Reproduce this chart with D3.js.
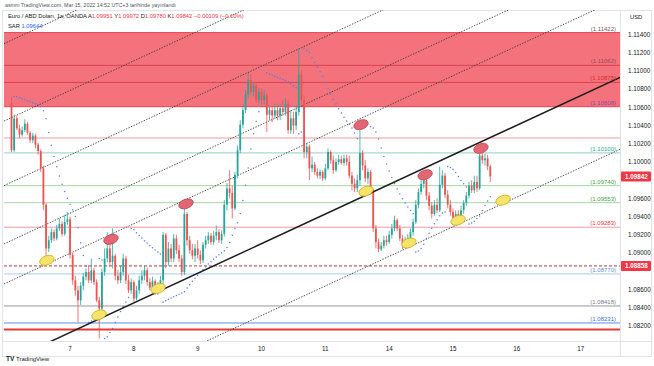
<!DOCTYPE html>
<html>
<head>
<meta charset="utf-8">
<script src="https://cdn.jsdelivr.net/npm/d3@7"></script>
<style>
  body { margin: 0; background: #fff; }
  svg { display: block; font-family: "Liberation Sans", Arial, sans-serif; }
</style>
</head>
<body>
<svg id="chart" width="654" height="366"></svg>
<script>
// EUR/USD 1h candles, Mar 4 02:00 -> Mar 15 14:00 (open = previous close)
const firstOpen = 1.1065;
const closes = [
  1.1013,1.1048,1.1037,1.1030,1.1035,1.1042,1.1032,1.1024,1.1029,1.1019,
  1.1012,1.0993,1.0953,1.0905,1.0914,1.0923,1.0916,1.0927,1.0932,1.0921,
  1.0934,1.0937,1.0898,1.0870,1.0859,1.0848,1.0864,1.0874,1.0879,1.0870,
  1.0881,1.0868,1.0848,1.0839,1.0879,1.0894,1.0905,1.0890,1.0897,1.0875,
  1.0870,1.0879,1.0894,1.0870,1.0859,1.0868,1.0850,1.0859,1.0870,1.0875,
  1.0881,1.0868,1.0862,1.0869,1.0857,1.0864,1.0870,1.0920,1.0890,1.0905,
  1.0894,1.0916,1.0903,1.0894,1.0879,1.0943,1.0914,1.0903,1.0897,1.0905,
  1.0898,1.0892,1.0909,1.0914,1.0919,1.0912,1.0919,1.0923,1.0914,1.0921,
  1.0953,1.0971,1.0966,1.0949,1.0986,1.1013,1.1041,1.1057,1.1074,1.1090,
  1.1077,1.1084,1.1068,1.1077,1.1068,1.1073,1.1052,1.1057,1.1051,1.1057,
  1.1051,1.1059,1.1055,1.1064,1.1035,1.1048,1.1040,1.1055,1.1096,1.1068,
  1.1011,1.1017,1.0993,1.0997,1.0989,1.0985,1.0989,1.0982,1.0993,1.1011,
  1.1002,1.0991,1.1000,1.1003,1.0999,1.1004,1.1000,1.0985,1.0976,1.0971,
  1.0980,1.1010,1.0996,1.0982,1.0989,1.0969,1.0927,1.0912,1.0904,1.0908,
  1.0914,1.0912,1.0920,1.0927,1.0936,1.0927,1.0916,1.0909,1.0914,1.0916,
  1.0923,1.0934,1.0953,1.0967,1.0976,1.0980,1.0963,1.0952,1.0943,1.0953,
  1.0947,1.0975,1.0985,1.0964,1.0953,1.0945,1.0938,1.0943,1.0940,1.0947,
  1.0955,1.0963,1.0974,1.0969,1.0978,1.0971,1.1007,1.1002,1.1004,1.09951,
  1.09842
];
const highs = [
  1.1072,1.1052,1.1051,1.1041,1.1039,1.1047,1.1044,1.1034,1.1032,1.1031,
  1.1021,1.1014,1.0996,1.0955,1.0919,1.0927,1.0926,1.0931,1.0938,1.0935,
  1.0942,1.0945,1.0940,1.0900,1.0875,1.0864,1.0868,1.0878,1.0883,1.0887,
  1.0894,1.0884,1.0871,1.0852,1.0883,1.0905,1.0923,1.0910,1.0927,1.0899,
  1.0881,1.0886,1.0899,1.0897,1.0876,1.0872,1.0870,1.0864,1.0875,1.0881,
  1.0886,1.0884,1.0872,1.0874,1.0871,1.0868,1.0875,1.0923,1.0922,1.0912,
  1.0910,1.0921,1.0920,1.0909,1.0898,1.0956,1.0945,1.0919,1.0910,1.0910,
  1.0914,1.0903,1.0912,1.0919,1.0923,1.0922,1.0924,1.0930,1.0926,1.0925,
  1.0958,1.0977,1.0991,1.0974,1.0989,1.1018,1.1046,1.1063,1.1079,1.1098,
  1.1097,1.1088,1.1086,1.1081,1.1081,1.1079,1.1076,1.1062,1.1062,1.1064,
  1.1064,1.1064,1.1068,1.1070,1.1068,1.1057,1.1055,1.1062,1.1125,1.1101,
  1.1073,1.1020,1.1019,1.1006,1.1000,1.0993,1.0992,1.0991,1.0998,1.1015,
  1.1013,1.1007,1.1004,1.1008,1.1007,1.1008,1.1008,1.1007,1.0989,1.0982,
  1.0986,1.1039,1.1013,1.1002,1.0993,1.0991,1.0971,1.0931,1.0916,1.0912,
  1.0919,1.0919,1.0924,1.0932,1.0941,1.0938,1.0931,1.0920,1.0918,1.0921,
  1.0927,1.0938,1.0958,1.0971,1.0982,1.0989,1.0985,1.0967,1.0956,1.0958,
  1.0960,1.0995,1.0991,1.0988,1.0969,1.0958,1.0949,1.0947,1.0947,1.0952,
  1.0958,1.0967,1.0978,1.0980,1.0985,1.0985,1.1015,1.1010,1.1009,1.1008,
  1.09972
];
const lows = [
  1.1011,1.1011,1.1035,1.1026,1.1028,1.1033,1.1030,1.1021,1.1021,1.1015,
  1.1008,1.0989,1.0947,1.0894,1.0901,1.0911,1.0913,1.0914,1.0924,1.0918,
  1.0919,1.0931,1.0894,1.0865,1.0853,1.0824,1.0843,1.0859,1.0870,1.0867,
  1.0867,1.0865,1.0846,1.0806,1.0833,1.0875,1.0890,1.0886,1.0883,1.0870,
  1.0866,1.0867,1.0875,1.0866,1.0856,1.0855,1.0846,1.0848,1.0855,1.0866,
  1.0870,1.0864,1.0859,1.0859,1.0854,1.0854,1.0857,1.0866,1.0883,1.0886,
  1.0890,1.0890,1.0899,1.0890,1.0875,1.0876,1.0908,1.0899,1.0893,1.0890,
  1.0894,1.0888,1.0889,1.0905,1.0910,1.0909,1.0909,1.0914,1.0911,1.0910,
  1.0918,1.0947,1.0960,1.0938,1.0947,1.0982,1.1010,1.1037,1.1054,1.1070,
  1.1073,1.1072,1.1065,1.1064,1.1064,1.1064,1.1033,1.1046,1.1044,1.1048,
  1.1046,1.1046,1.1051,1.1051,1.1031,1.1031,1.1031,1.1035,1.1051,1.1064,
  1.1004,1.1004,1.0980,1.0989,1.0986,1.0982,1.0981,1.0979,1.0980,1.0991,
  1.0998,1.0987,1.0989,1.0997,1.0997,1.0996,1.0996,1.0982,1.0969,1.0967,
  1.0967,1.0974,1.0991,1.0978,1.0976,1.0964,1.0923,1.0905,1.0901,1.0902,
  1.0905,1.0908,1.0910,1.0916,1.0924,1.0924,1.0913,1.0904,1.0905,1.0910,
  1.0913,1.0919,1.0932,1.0949,1.0964,1.0971,1.0958,1.0947,1.0938,1.0941,
  1.0944,1.0945,1.0971,1.0960,1.0949,1.0941,1.0934,1.0932,1.0934,1.0936,
  1.0943,1.0952,1.0960,1.0966,1.0966,1.0967,1.0969,1.0998,1.0996,1.0991,
  1.0978
];

// Time axis (bar index of each day's first bar)
const dayTicks = [22, 46, 70, 94, 118, 142, 166, 190, 214];
const dayLabels = ["7", "8", "9", "10", "11", "14", "15", "16", "17"];
const priceTicks = [1.114, 1.112, 1.110, 1.108, 1.106, 1.104, 1.102, 1.100, 1.098, 1.096,
                    1.094, 1.092, 1.090, 1.088, 1.086, 1.084, 1.082];

// Drawings
const zoneRange = [1.10608, 1.11422];
const levelPrices = [1.11422, 1.11062, 1.10875, 1.10608, 1.10264, 1.10100, 1.09740,
                     1.09553, 1.09283, 1.08858, 1.08770, 1.08418, 1.08231, 1.08160];
const levelLabels = ["(1.11422)", "(1.11062)", "(1.10875)", "(1.10608)", "", "(1.10100)", "(1.09740)",
                     "(1.09553)", "(1.09283)", "", "(1.08770)", "(1.08418)", "(1.08231)", ""];
const trendAnchors = [[34.8, 1.0830], [228.8, 1.1093]];
const channelOffsets = [0.0351, 0.0266, 0.0195, 0.0131, 0.0087, -0.0079];
const redMarks = [[37.4, 1.0915], [65.6, 1.0954], [131.4, 1.1041], [155.5, 1.0986], [176.5, 1.1015]];
const yellowMarks = [[13.3, 1.0892], [32.9, 1.0832], [55.1, 1.0861], [133.3, 1.0968],
                     [149.4, 1.0911], [167.9, 1.0936], [184.8, 1.0958]];
const lastPrice = 1.09842;
const markedPrice = 1.08858;

// Layout
const pane = { left: 4, right: 620, top: 10, bottom: 341 };
const svg = d3.select("#chart");
const x = d3.scaleLinear().domain([0, 214]).range([11.5, 580.7]);
const y = d3.scaleLinear().domain([1.082, 1.114]).range([325.8, 34.6]);

const opens = [firstOpen, ...closes.slice(0, -1)];
const bars = closes.map((c, i) => ({
  i, o: opens[i], c,
  h: Math.max(highs[i], opens[i], c),
  l: Math.min(lows[i], opens[i], c)
}));

// Parabolic SAR (0.02, 0.02, 0.2)
function parabolicSar(data) {
  const out = [];
  let up = false, sar = data[0].h, ep = data[0].l, af = 0.02;
  out.push(null);
  for (let i = 1; i < data.length; i++) {
    sar = sar + af * (ep - sar);
    const p1 = data[i - 1], p2 = data[Math.max(0, i - 2)];
    if (up) {
      sar = Math.min(sar, p1.l, p2.l);
      if (data[i].l < sar) { up = false; sar = ep; ep = data[i].l; af = 0.02; }
      else if (data[i].h > ep) { ep = data[i].h; af = Math.min(af + 0.02, 0.2); }
    } else {
      sar = Math.max(sar, p1.h, p2.h);
      if (data[i].h > sar) { up = true; sar = ep; ep = data[i].h; af = 0.02; }
      else if (data[i].l < ep) { ep = data[i].l; af = Math.min(af + 0.02, 0.2); }
    }
    out.push(sar);
  }
  return out;
}
const sar = parabolicSar(bars);

// Frame
svg.append("rect").attr("width", 654).attr("height", 366).attr("fill", "#fff");
svg.append("rect")
  .attr("x", 2.5).attr("y", pane.top + 0.5)
  .attr("width", 649).attr("height", 346)
  .attr("fill", "none").attr("stroke", "#e0e3eb");

svg.append("clipPath").attr("id", "pane")
  .append("rect")
  .attr("x", pane.left).attr("y", pane.top)
  .attr("width", pane.right - pane.left).attr("height", pane.bottom - pane.top);

const g = svg.append("g").attr("clip-path", "url(#pane)");

// Resistance zone
g.append("rect")
  .attr("x", pane.left).attr("width", pane.right - pane.left)
  .attr("y", y(zoneRange[1])).attr("height", y(zoneRange[0]) - y(zoneRange[1]))
  .attr("fill", "#f4727b");

// Horizontal levels
const levelColors = ["#e8424f", "#d9434d", "#d9434d", "#e8424f", "#f59aa0", "#8fd0c8", "#a5d6a7",
                     "#a5d6a7", "#f59aa0", "#b03a3a", "#a9c9f2", "#9598a1", "#5a8ee6", "#e53935"];
const labelColors = ["#7d5a5c", "#9b4a4f", "#d32f2f", "#8e44ad", "", "#26a69a", "#43a047",
                     "#43a047", "#e53935", "", "#5b8fd9", "#787b86", "#3f6fd8", ""];
levelPrices.forEach((p, k) => {
  g.append("line")
    .attr("x1", pane.left).attr("x2", pane.right)
    .attr("y1", y(p)).attr("y2", y(p))
    .attr("stroke", levelColors[k])
    .attr("stroke-width", k === levelPrices.length - 1 ? 2 : 1)
    .attr("stroke-dasharray", p === markedPrice ? "3,2" : null);
});

// Parallel channel lines
const slope = (trendAnchors[1][1] - trendAnchors[0][1]) / (trendAnchors[1][0] - trendAnchors[0][0]);
const lineAt = (i, off) => trendAnchors[0][1] + slope * (i - trendAnchors[0][0]) + off;
const iMin = x.invert(pane.left), iMax = x.invert(pane.right);
channelOffsets.forEach(off => {
  g.append("line")
    .attr("x1", x(iMin)).attr("y1", y(lineAt(iMin, off)))
    .attr("x2", x(iMax)).attr("y2", y(lineAt(iMax, off)))
    .attr("stroke", "#3a3a3a").attr("stroke-width", 0.9)
    .attr("stroke-dasharray", "1.4,1.4");
});

// SAR dots
g.selectAll("circle.sar")
  .data(sar.map((v, i) => ({ i, v })).filter(d => d.v !== null))
  .join("circle")
  .attr("cx", d => x(d.i)).attr("cy", d => y(d.v))
  .attr("r", 0.75).attr("fill", "#4a7ef0");

// Candles
const up = "#26a69a", down = "#ef5350";
const cg = g.append("g");
cg.selectAll("line")
  .data(bars).join("line")
  .attr("x1", d => x(d.i)).attr("x2", d => x(d.i))
  .attr("y1", d => y(d.h)).attr("y2", d => y(d.l))
  .attr("stroke", d => d.c >= d.o ? up : down).attr("stroke-width", 0.8);
cg.selectAll("rect")
  .data(bars).join("rect")
  .attr("x", d => x(d.i) - 0.9).attr("width", 1.8)
  .attr("y", d => y(Math.max(d.o, d.c)))
  .attr("height", d => Math.max(0.8, Math.abs(y(d.o) - y(d.c))))
  .attr("fill", d => d.c >= d.o ? up : down);

// Black trend line
g.append("line")
  .attr("x1", x(iMin)).attr("y1", y(lineAt(iMin, 0)))
  .attr("x2", x(iMax)).attr("y2", y(lineAt(iMax, 0)))
  .attr("stroke", "#1e1e1e").attr("stroke-width", 1.5);

// Touch markers
function marks(data, fill, stroke) {
  g.append("g").selectAll("ellipse")
    .data(data).join("ellipse")
    .attr("transform", d => `translate(${x(d[0])},${y(d[1])}) rotate(-20)`)
    .attr("rx", 7.5).attr("ry", 4.6)
    .attr("fill", fill).attr("stroke", stroke).attr("stroke-width", 0.8);
}
marks(redMarks, "#e26673", "#c44a57");
marks(yellowMarks, "#f6e36a", "#c9b02a");

// Level labels
levelPrices.forEach((p, k) => {
  if (!levelLabels[k]) return;
  g.append("text")
    .attr("x", pane.right - 4).attr("y", y(p) - 2)
    .attr("text-anchor", "end").attr("font-size", 6)
    .attr("fill", labelColors[k]).text(levelLabels[k]);
});

// Axes separators
svg.append("line").attr("x1", pane.right + 0.5).attr("x2", pane.right + 0.5)
  .attr("y1", pane.top).attr("y2", 356).attr("stroke", "#e0e3eb");
svg.append("line").attr("x1", 2).attr("x2", 652)
  .attr("y1", pane.bottom + 0.5).attr("y2", pane.bottom + 0.5).attr("stroke", "#e0e3eb");

// Price axis: ticks that sit under a price tag are hidden, as on the chart
const tags = [lastPrice, markedPrice];
const axisG = svg.append("g").attr("font-size", 6.3).attr("fill", "#131722");
axisG.selectAll("text.tick")
  .data(priceTicks.filter(t => tags.every(p => Math.abs(y(t) - y(p)) > 8)))
  .join("text")
  .attr("x", 628).attr("y", d => y(d) + 2.2)
  .text(d => d3.format(".5f")(d));
axisG.append("text").attr("x", 630).attr("y", 19).attr("font-size", 5.8).text("USD");

function priceTag(p) {
  const t = svg.append("g").attr("transform", `translate(${pane.right + 1},${y(p)})`);
  t.append("rect").attr("x", 0).attr("y", -5).attr("width", 30).attr("height", 10)
    .attr("rx", 1).attr("fill", "#f23645");
  t.append("text").attr("x", 4).attr("y", 2.3).attr("font-size", 6.3)
    .attr("font-weight", "bold").attr("fill", "#fff").text(d3.format(".5f")(p));
}
tags.forEach(priceTag);

// Time axis
svg.append("g").selectAll("text")
  .data(dayTicks).join("text")
  .attr("x", d => x(d)).attr("y", 351)
  .attr("text-anchor", "middle").attr("font-size", 6.3).attr("fill", "#131722")
  .text((d, k) => dayLabels[k]);

// Header and legend
svg.append("text").attr("x", 5).attr("y", 7).attr("font-size", 5.3).attr("fill", "#50535e")
  .text("asmm TradingView.com, Mar 15, 2022 14:52 UTC+3 tarihinde yayınlandı");

const legend = svg.append("text").attr("x", 8).attr("y", 18).attr("font-size", 5.8).attr("fill", "#131722");
legend.append("tspan").text("Euro / ABD Doları, 1s, OANDA  ");
[["A", "1.09951"], ["Y", "1.09972"], ["D", "1.09780"], ["K", "1.09842"]].forEach(([k, v]) => {
  legend.append("tspan").text(" " + k);
  legend.append("tspan").attr("fill", "#f23645").text(v);
});
legend.append("tspan").attr("fill", "#f23645").text("  −0.00109 (−0.10%)");

const sarText = svg.append("text").attr("x", 8).attr("y", 28).attr("font-size", 5.8).attr("fill", "#131722");
sarText.append("tspan").text("SAR ");
sarText.append("tspan").attr("fill", "#2962ff").text("1.09644");

// Footer logo
const logo = svg.append("g").attr("transform", "translate(6,361)");
logo.append("text").attr("font-size", 6.5).attr("font-weight", "bold").attr("fill", "#131722").text("TV");
logo.append("text").attr("x", 10).attr("font-size", 6).attr("fill", "#131722").text("TradingView");
</script>
</body>
</html>
